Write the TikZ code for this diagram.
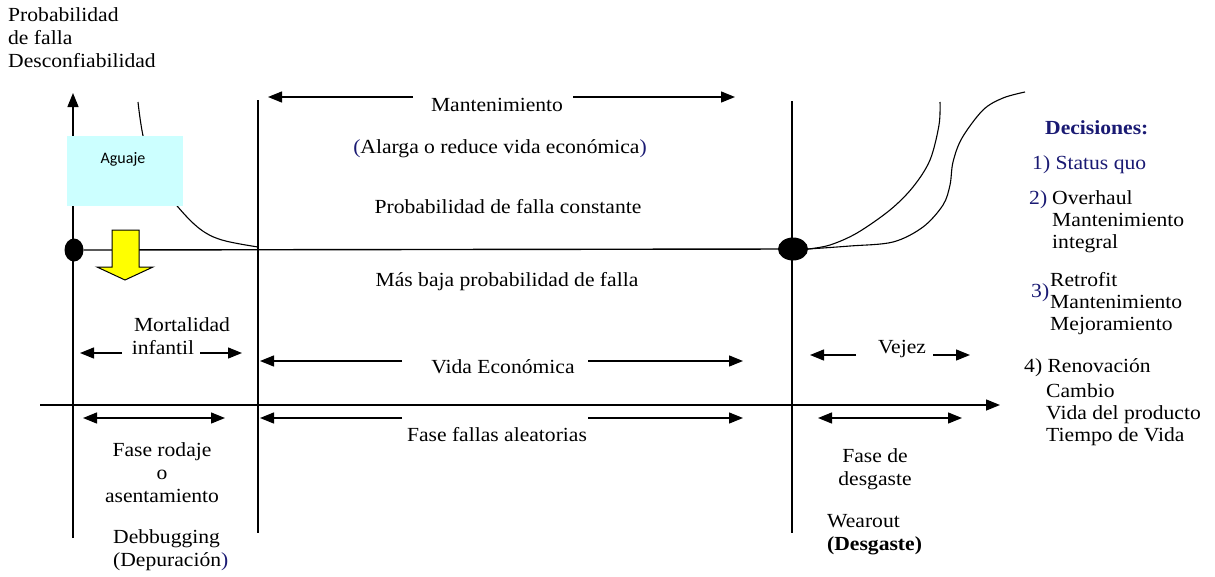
\documentclass[tikz,border=0pt]{standalone}
\usepackage{fontspec}
\setmainfont[FakeStretch=1.08]{Liberation Serif}
\newfontfamily\aguajefont{Carlito}
\usetikzlibrary{arrows.meta,shapes.geometric}
\definecolor{navy}{RGB}{26,26,115}
\definecolor{aqua}{RGB}{204,255,255}
\definecolor{yel}{RGB}{255,255,0}
\begin{document}
\begin{tikzpicture}[x=1pt,y=-1pt,
  every node/.style={inner sep=0pt, font=\fontsize{20}{23}\selectfont},
  axis/.style={line width=1.4pt},
  tip/.tip={Triangle[length=14pt,width=11pt]},
  arr/.style={line width=1.3pt, -tip},
  darr/.style={line width=1.3pt, tip-tip},
  curve/.style={line width=1.1pt, line join=round},
  dot/.style={ellipse, fill=black, inner sep=0pt},
  dec/.style={anchor=west, align=left, font=\fontsize{20}{22}\selectfont},
]
\useasboundingbox (0,0) rectangle (1215,576);
% axes
\coordinate (yb) at (73,538);
\coordinate (yt) at (73,93);
\draw[axis,-tip] (yb) -- (yt);
\coordinate (xl) at (40,405);
\coordinate (xr) at (1000,405);
\draw[axis,-tip] (xl) -- (xr);
% vertical phase lines
\coordinate (v1t) at (258,100); \coordinate (v1b) at (258,533);
\coordinate (v2t) at (792,101); \coordinate (v2b) at (792,533);
\draw[axis] (v1t) -- (v1b);
\draw[axis] (v2t) -- (v2b);
% left decreasing curve
\coordinate (lc0) at (138,102);
\coordinate (lc1) at (258,247);
\draw[curve] plot[smooth, tension=0.6] coordinates {(lc0) (144,140) (158,180) (178,207) (200,229) (222,240) (lc1)};
% dots and constant line
\node[dot, minimum width=19pt, minimum height=23pt] (dotL) at (74,250) {};
\node[dot, minimum width=30pt, minimum height=23pt] (dotR) at (793,249) {};
\draw[axis] (dotL) -- (dotR);
% wear-out curves
\coordinate (ic) at (940,102);
\coordinate (oc) at (1025,92);
\draw[curve] plot[smooth, tension=0.55] coordinates {(dotR.east) (830,245) (857,233) (890,210) (913,187) (930,160) (939,125) (ic)};
\draw[curve] plot[smooth, tension=0.55] coordinates {(dotR.east) (850,246) (893,242) (923,227) (943,205) (950,185) (953,162) (962,138) (983,110) (1003,98) (oc)};
% Aguaje box
\node[fill=aqua, minimum width=116pt, minimum height=70pt,
  label={[font=\aguajefont\fontsize{16}{18}\selectfont, anchor=north, yshift=-16pt, xshift=-2pt]north:Aguaje}] (aguaje) at (125,171) {};
% yellow arrow
\draw[fill=yel, line width=1pt, line join=miter] (112,230) -- (139,230) -- (139,267) -- (153,267) -- (125,280) -- (97,267) -- (112,267) -- cycle;
% top-left label
\node[anchor=west, align=left] (ylabel) at (8,38) {Probabilidad\\de falla\\Desconfiabilidad};
% Mantenimiento
\node (mant) at (497,105) {Mantenimiento};
\coordinate (m1) at (413,97); \coordinate (m1t) at (268,97);
\coordinate (m2) at (573,97); \coordinate (m2t) at (735,97);
\draw[arr] (m1) -- (m1t);
\draw[arr] (m2) -- (m2t);
\node (alarga) at (500,149) {\textcolor{navy}{(}Alarga o reduce vida económica\textcolor{navy}{)}};
\node (pconst) at (508,207) {Probabilidad de falla constante};
\node (masbaja) at (507,282) {Más baja probabilidad de falla};
% Mortalidad infantil
\node (mort) at (182,325) {Mortalidad};
\node (inf) at (163,348) {infantil};
\coordinate (mo1) at (122,353); \coordinate (mo1t) at (80,353);
\coordinate (mo2) at (200,353); \coordinate (mo2t) at (242,353);
\draw[arr] (mo1) -- (mo1t);
\draw[arr] (mo2) -- (mo2t);
% Vida economica
\node (vida) at (503,367) {Vida Económica};
\coordinate (ve1) at (402,361); \coordinate (ve1t) at (260,361);
\coordinate (ve2) at (588,361); \coordinate (ve2t) at (743,361);
\draw[arr] (ve1) -- (ve1t);
\draw[arr] (ve2) -- (ve2t);
% Vejez
\node (vejez) at (902,349) {Vejez};
\coordinate (vj1) at (856,355); \coordinate (vj1t) at (810,355);
\coordinate (vj2) at (933,355); \coordinate (vj2t) at (970,355);
\draw[arr] (vj1) -- (vj1t);
\draw[arr] (vj2) -- (vj2t);
% bottom phase arrows
\coordinate (r1) at (83,418); \coordinate (r2) at (225,418);
\draw[darr] (r1) -- (r2);
\coordinate (fa1) at (402,418); \coordinate (fa1t) at (260,418);
\coordinate (fa2) at (588,418); \coordinate (fa2t) at (743,418);
\draw[arr] (fa1) -- (fa1t);
\draw[arr] (fa2) -- (fa2t);
\coordinate (d1) at (818,418); \coordinate (d2) at (962,418);
\draw[darr] (d1) -- (d2);
\node (fasefallas) at (497,435) {Fase fallas aleatorias};
\node[align=center] (rodaje) at (162,473) {Fase rodaje\\o\\asentamiento};
\node[align=left, anchor=west] (debug) at (113,550) {Debbugging\\(Depuración\textcolor{navy}{)}};
\node[align=center] (desg) at (875,469) {Fase de\\desgaste};
\node[align=left, anchor=west] (wear) at (827,535) {Wearout\\\textbf{(Desgaste)}};
% Decisiones
\node[dec, text=navy, font=\bfseries\fontsize{20}{22}\selectfont] (decT) at (1045,128) {Decisiones:};
\node[dec, text=navy] (dc1) at (1032,165) {1) Status quo};
\node[dec, text=navy] (dc2n) at (1029,200) {2)};
\node[dec] (dc2) at (1052,221.5) {Overhaul\\Mantenimiento\\integral};
\node[dec, text=navy] (dc3n) at (1031,293) {3)};
\node[dec] (dc3) at (1050,304) {Retrofit\\Mantenimiento\\Mejoramiento};
\node[dec] (dc4) at (1024,368) {4) Renovación};
\node[dec] (dc4b) at (1046,415) {Cambio\\Vida del producto\\Tiempo de Vida};
\end{tikzpicture}
\end{document}
